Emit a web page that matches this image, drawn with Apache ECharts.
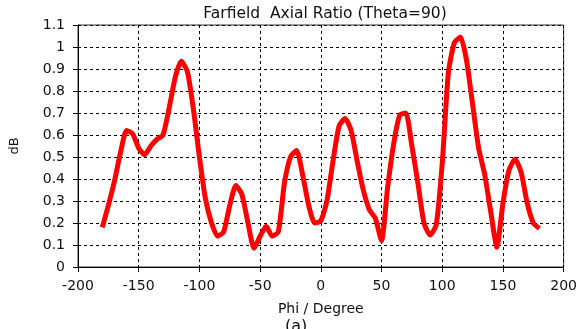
<!DOCTYPE html>
<html>
<head>
<meta charset="utf-8">
<script src="https://cdn.jsdelivr.net/npm/echarts@6/dist/echarts.min.js"></script>
<style>html,body{margin:0;padding:0;background:#fff}#c{width:580px;height:329px}</style>
</head>
<body>
<div id="c"></div>
<script>
const phi = [];
for (let p = -180; p <= 180; p += 5) phi.push(p);
const axialRatio = [
  0.18, 0.28, 0.39, 0.52, 0.62, 0.605, 0.54, 0.51, 0.55, 0.58,
  0.60, 0.72, 0.86, 0.935, 0.89, 0.72, 0.50, 0.31, 0.20, 0.14,
  0.16, 0.28, 0.37, 0.33, 0.20, 0.085, 0.14, 0.185, 0.14, 0.16,
  0.38, 0.50, 0.53, 0.42, 0.28, 0.20, 0.21, 0.30, 0.48, 0.64,
  0.675, 0.62, 0.48, 0.35, 0.26, 0.22, 0.12, 0.36, 0.56, 0.69,
  0.70, 0.55, 0.38, 0.20, 0.145, 0.19, 0.47, 0.88, 1.02, 1.045,
  0.94, 0.74, 0.54, 0.42, 0.25, 0.09, 0.29, 0.44, 0.49, 0.43,
  0.29, 0.20, 0.175
];
const titleText = 'Farfield  Axial Ratio (Theta=90)';
const xName = 'Phi / Degree';
const yName = 'dB';
const caption = '(a)';

const font = 'DejaVu Sans';
const chart = echarts.init(document.getElementById('c'));
chart.setOption({
  animation: false,
  backgroundColor: '#fff',
  title: {
    text: titleText, left: 320, textAlign: 'center', top: 1,
    textStyle: {fontFamily: font, fontSize: 15.5, fontWeight: 'normal', color: '#111'}
  },
  grid: {left: 76, right: 14, top: 25, bottom: 62, show: true, borderColor: '#333', borderWidth: 1},
  xAxis: {
    type: 'value', min: -200, max: 200, interval: 50,
    name: xName, nameLocation: 'middle', nameGap: 35,
    nameTextStyle: {fontFamily: font, fontSize: 14, color: '#111'},
    axisLine: {show: true, onZero: false, lineStyle: {color: '#000', width: 1}},
    axisTick: {show: true, length: 5, lineStyle: {color: '#000'}},
    axisLabel: {fontFamily: font, fontSize: 14, color: '#111', margin: 12},
    splitLine: {show: true, lineStyle: {color: '#000', type: [3, 3], width: 1}}
  },
  yAxis: {
    type: 'value', min: 0, max: 1.1, interval: 0.1,
    name: yName, nameLocation: 'middle', nameGap: 57, nameRotate: 90,
    nameTextStyle: {fontFamily: font, fontSize: 13, color: '#111'},
    axisLine: {show: true, onZero: false, lineStyle: {color: '#000', width: 1}},
    axisTick: {show: true, length: 5, lineStyle: {color: '#000'}},
    axisLabel: {fontFamily: font, fontSize: 14, color: '#111', margin: 13,
      formatter: v => String(+v.toFixed(1))},
    splitLine: {show: true, lineStyle: {color: '#000', type: [3, 3], width: 1}}
  },
  graphic: [{
    type: 'text', left: 285, top: 319,
    style: {text: caption, font: '16px DejaVu Sans', fill: '#111'}
  }],
  series: [{
    type: 'line', data: phi.map((p, i) => [p, axialRatio[i]]),
    smooth: 0.2, showSymbol: false,
    lineStyle: {color: '#ff0000', width: 5}
  }]
});
</script>
</body>
</html>
